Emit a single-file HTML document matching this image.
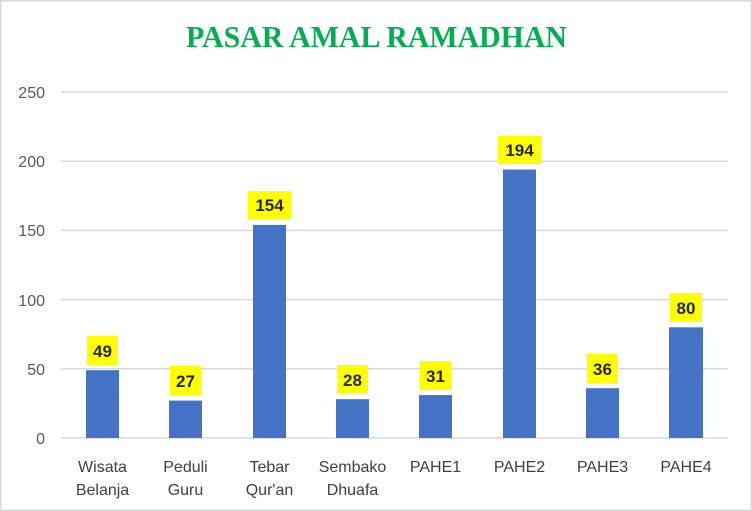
<!DOCTYPE html>
<html><head><style>
html,body{margin:0;padding:0;background:#fff;}
svg{display:block;}
</style></head><body>
<svg width="752" height="511" xmlns="http://www.w3.org/2000/svg" font-family="Liberation Sans, sans-serif">
<rect x="0.5" y="0.5" width="751" height="510" fill="#fff" stroke="#d9d9d9" stroke-width="2"/>
<text x="376.5" y="47" text-anchor="middle" font-family="Liberation Serif, serif" font-weight="bold" font-size="31" fill="#00b050" textLength="381" lengthAdjust="spacingAndGlyphs">PASAR AMAL RAMADHAN</text>
<g stroke="#d9d9d9" stroke-width="1.5">
<line x1="61" x2="728" y1="92" y2="92"/>
<line x1="61" x2="728" y1="161.2" y2="161.2"/>
<line x1="61" x2="728" y1="230.4" y2="230.4"/>
<line x1="61" x2="728" y1="299.6" y2="299.6"/>
<line x1="61" x2="728" y1="368.8" y2="368.8"/>
<line x1="61" x2="728" y1="438" y2="438"/>
</g>
<g font-size="16" fill="#595959" text-anchor="end">
<text x="45" y="98">250</text>
<text x="45" y="167">200</text>
<text x="45" y="236">150</text>
<text x="45" y="306">100</text>
<text x="45" y="375">50</text>
<text x="45" y="444">0</text>
</g>
<g fill="#4472c4">
<rect x="86" y="370.2" width="33" height="67.8"/>
<rect x="169" y="400.6" width="33" height="37.4"/>
<rect x="253" y="224.9" width="33" height="213.1"/>
<rect x="336" y="399.2" width="33" height="38.8"/>
<rect x="419" y="395.1" width="33" height="42.9"/>
<rect x="503" y="169.5" width="33" height="268.5"/>
<rect x="586" y="388.2" width="33" height="49.8"/>
<rect x="669" y="327.3" width="34" height="110.7"/>
</g>
<g fill="#ffff00">
<rect x="87" y="336" width="31" height="29"/>
<rect x="170" y="366" width="31" height="29"/>
<rect x="248" y="191" width="43" height="28"/>
<rect x="337" y="365" width="31" height="29"/>
<rect x="420" y="361" width="31" height="29"/>
<rect x="498" y="136" width="43" height="28"/>
<rect x="587" y="354" width="31" height="29"/>
<rect x="670" y="293" width="32" height="29"/>
</g>
<g font-size="17" font-weight="bold" fill="#262626" text-anchor="middle">
<text x="102.5" y="357">49</text>
<text x="185.5" y="387">27</text>
<text x="269.5" y="211">154</text>
<text x="352.5" y="386">28</text>
<text x="435.5" y="382">31</text>
<text x="519.5" y="156">194</text>
<text x="602.5" y="375">36</text>
<text x="686" y="314">80</text>
</g>
<g font-size="16" fill="#404040" text-anchor="middle">
<text x="102.5" y="472">Wisata</text><text x="102.5" y="495">Belanja</text>
<text x="185.5" y="472">Peduli</text><text x="185.5" y="495">Guru</text>
<text x="269.5" y="472">Tebar</text><text x="269.5" y="495">Qur'an</text>
<text x="352.5" y="472">Sembako</text><text x="352.5" y="495">Dhuafa</text>
<text x="435.5" y="472">PAHE1</text>
<text x="519.5" y="472">PAHE2</text>
<text x="602.5" y="472">PAHE3</text>
<text x="686" y="472">PAHE4</text>
</g>
</svg>
</body></html>
